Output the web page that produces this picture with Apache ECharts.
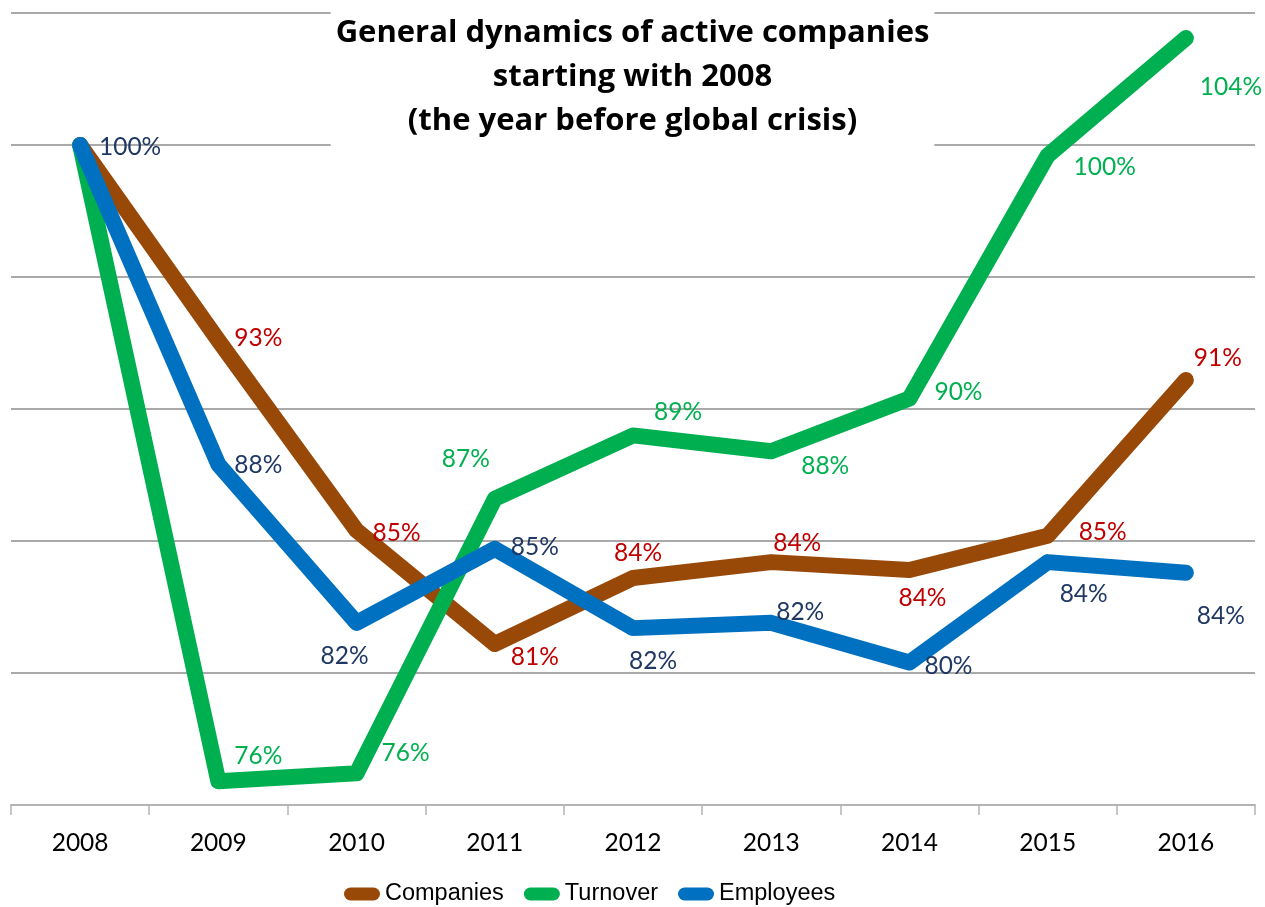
<!DOCTYPE html>
<html>
<head>
<meta charset="utf-8">
<script src="https://cdn.jsdelivr.net/npm/echarts@6/dist/echarts.min.js"></script>
<style>
  html, body { margin: 0; padding: 0; background: #fff; }
  #chart { width: 1265px; height: 907px; }
</style>
</head>
<body>
<div id="chart"></div>
<script>
const years = ['2008', '2009', '2010', '2011', '2012', '2013', '2014', '2015', '2016'];
const companies = [100, 92.6, 85.4, 81.1, 83.6, 84.2, 83.9, 85.2, 91.1];
const turnover = [100, 75.9, 76.2, 86.6, 89.0, 88.4, 90.4, 99.6, 104.05];
const employees = [100, 87.9, 81.9, 84.7, 81.7, 81.9, 80.4, 84.2, 83.8];

// where each value label sits relative to its point (null = no label)
const companyLabelOffsets = [null, [40, -2], [40, 3], [40, 13], [5, -25], [26, -19], [13, 28], [55, -4], [32, -22]];
const turnoverLabelOffsets = [null, [40, -25], [49, -20], [-29, -40], [45, -23], [54, 15], [49, -6], [57, 12], [45, 49]];
const employeeLabelOffsets = [[50, 2], [40, 1], [-12, 33], [40, -2], [20, 33], [29, -11], [39, 4], [36, 32], [35, 43]];

const labelFont = 'Lato, "Open Sans", sans-serif';

function withLabels(values, offsets, color) {
  return values.map((v, i) => {
    const off = offsets[i];
    return {
      value: v,
      label: off ? {
        show: true,
        position: 'inside',
        offset: off,
        align: 'center',
        verticalAlign: 'middle',
        color: color,
        fontSize: 24.5,
        fontFamily: labelFont,
        formatter: p => Math.round(p.value) + '%'
      } : { show: false }
    };
  });
}

function makeSeries(name, values, offsets, lineColor, labelColor) {
  return {
    name: name,
    type: 'line',
    data: withLabels(values, offsets, labelColor),
    symbol: 'circle',
    symbolSize: 0.1,
    showSymbol: true,
    itemStyle: { color: lineColor },
    lineStyle: { color: lineColor, width: 16, cap: 'round', join: 'round' },
    emphasis: { disabled: true },
    animation: false
  };
}

const chart = echarts.init(document.getElementById('chart'));
chart.setOption({
  backgroundColor: '#fff',
  title: {
    text: 'General dynamics of active companies\nstarting with 2008\n(the year before global crisis)',
    left: 'center',
    top: 0,
    padding: [11, 5, 5, 5],
    backgroundColor: '#fff',
    textStyle: {
      fontFamily: '"Open Sans", Lato, sans-serif',
      fontWeight: 'bold',
      fontSize: 31,
      lineHeight: 44,
      color: '#000'
    },
    z: 10
  },
  legend: {
    left: 339,
    top: 877,
    itemWidth: 36,
    itemHeight: 13,
    itemGap: 20,
    icon: 'path://M6.5,0 H29.5 A6.5,6.5 0 0 1 29.5,13 H6.5 A6.5,6.5 0 0 1 6.5,0 Z',
    textStyle: { fontFamily: '"Liberation Sans", Arial, sans-serif', fontSize: 23.5, color: '#000' },
    data: ['Companies', 'Turnover', 'Employees']
  },
  grid: { left: 11, right: 10, top: 13, bottom: 102, containLabel: false },
  xAxis: {
    type: 'category',
    data: years,
    boundaryGap: true,
    axisLine: { lineStyle: { color: '#b4b4b4', width: 2 } },
    axisTick: { show: true, length: 10, lineStyle: { color: '#b4b4b4', width: 1.5 } },
    axisLabel: { color: '#000', fontSize: 24.5, fontFamily: labelFont, margin: 26 }
  },
  yAxis: {
    type: 'value',
    min: 75,
    max: 105,
    interval: 5,
    axisLabel: { show: false },
    axisLine: { show: false },
    axisTick: { show: false },
    splitLine: { lineStyle: { color: '#8c8c8c', width: 1.5 } }
  },
  series: [
    makeSeries('Companies', companies, companyLabelOffsets, '#984807', '#c00000'),
    makeSeries('Turnover', turnover, turnoverLabelOffsets, '#00b050', '#00b050'),
    makeSeries('Employees', employees, employeeLabelOffsets, '#0070c0', '#1f3864')
  ]
});
</script>
</body>
</html>
